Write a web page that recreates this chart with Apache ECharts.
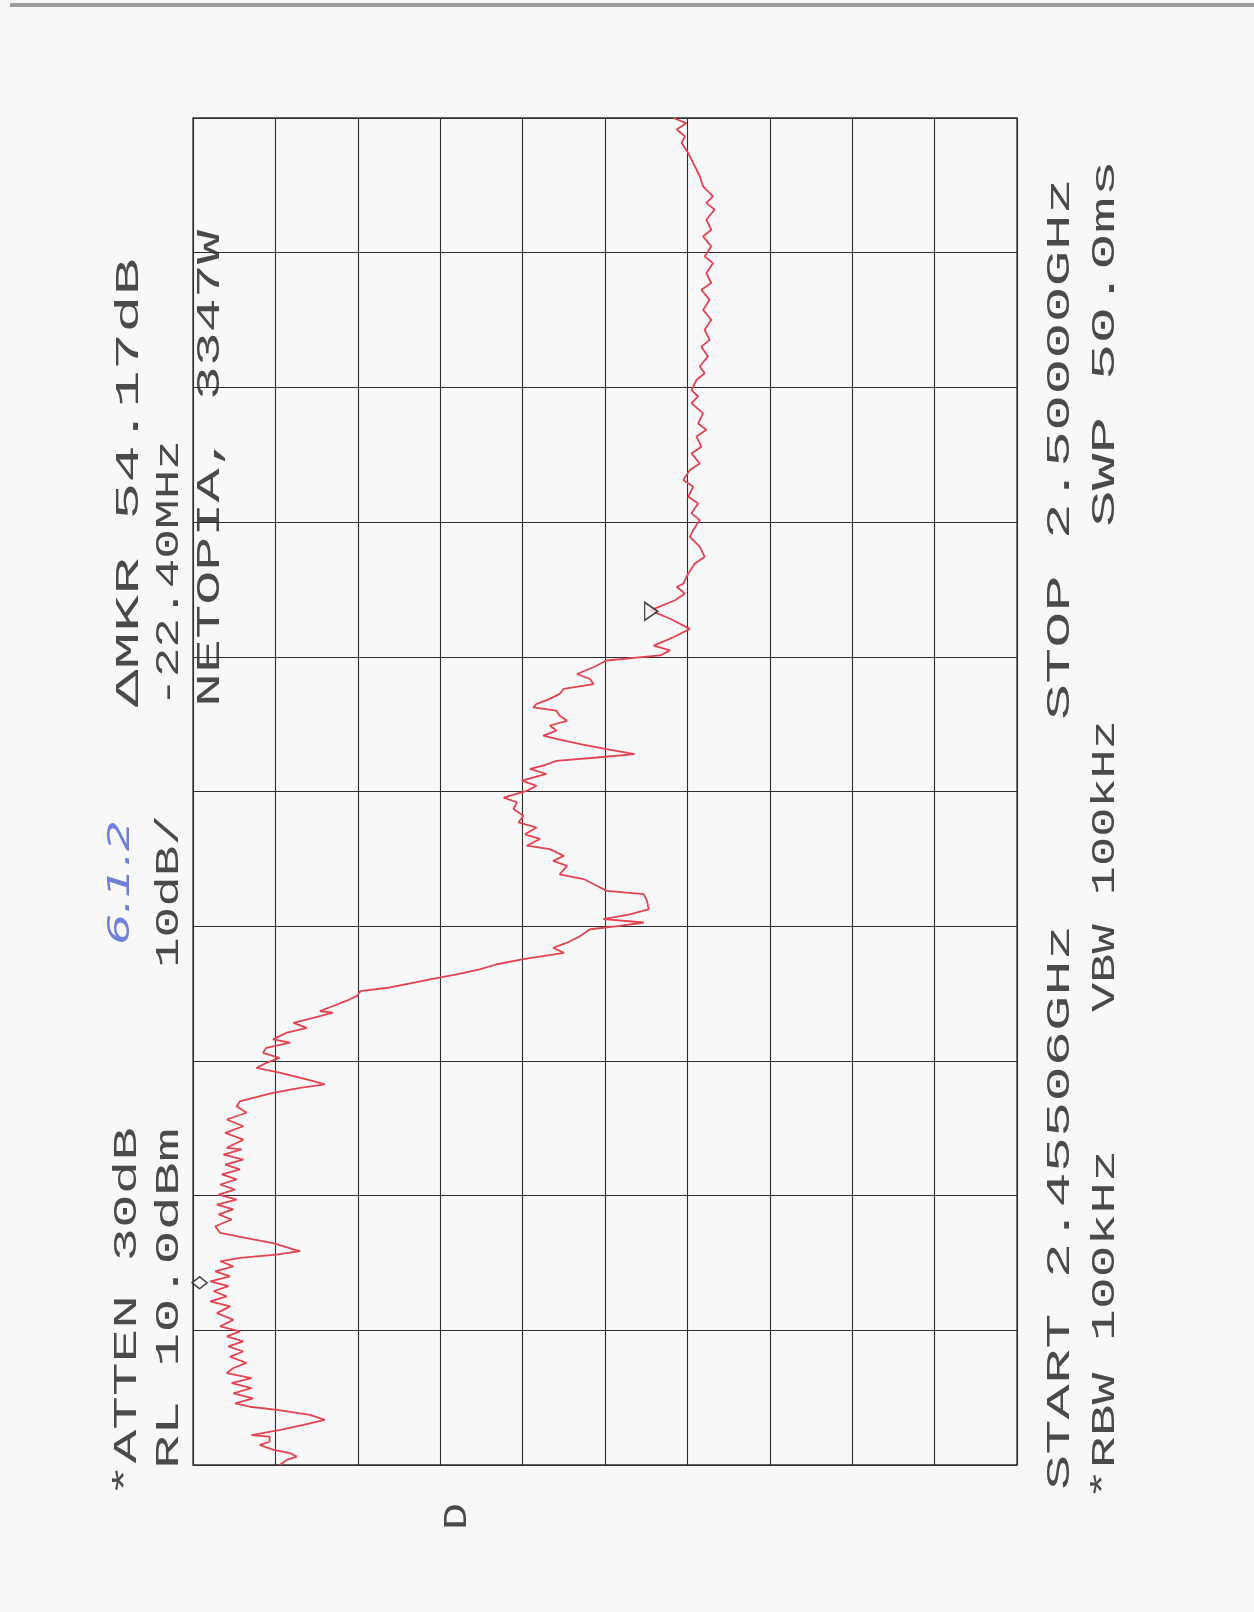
<!DOCTYPE html>
<html>
<head>
<meta charset="utf-8">
<script src="https://cdn.jsdelivr.net/npm/echarts@6/dist/echarts.min.js"></script>
<style>
  html, body { margin: 0; padding: 0; background: #f8f8f9; }
  #chart { width: 1254px; height: 1612px; }
</style>
</head>
<body>
<div id="chart"></div>
<script>
// ---- Data (spectrum analyzer trace, 401-point sweep, 10 dB/div, RL 10.0 dBm) ----
const sweepStartGHz = 2.45506;
const sweepStopGHz = 2.50000;
const sweepPoints = 400;          // point index range 0..400
const refLevelDbm = 10;
const dbPerDiv = 10;

// Trace: sweep point index (frequency position) and level in dBm
const tracePoint = [
  0, 1.5, 2.5, 3.5, 4.5, 6.0, 6.9, 8.4, 8.9, 10.4, 11.9, 13.4, 14.9, 16.4, 17.3, 18.3, 19.8, 21.3, 22.8, 24.3, 25.8, 27.3,
  28.8, 30.3, 32.2, 33.7, 35.2, 36.7, 38.2, 39.7, 41.2, 43.1, 45.1, 47.1, 48.6, 50.1, 51.6, 53.1, 54.5, 56.0, 57.5, 59.0,
  60.5, 61.5, 62.5, 63.5, 64.0, 65.9, 67.4, 68.9, 70.9, 72.9, 74.4, 75.9, 77.3, 78.8, 80.3, 81.8, 83.3, 84.8, 86.3, 87.8,
  89.2, 90.7, 92.2, 93.7,
  94.2, 96.6, 98.6, 100.6, 102.6, 104.6, 106.5, 108.0, 109.0, 110.5, 112.0, 113.0, 114.5, 116.5, 117.9, 119.4, 120.9,
  122.4, 123.9, 125.4, 126.4, 128.4, 129.8, 131.3, 132.8, 134.3, 134.8, 136.3, 137.8, 139.3, 140.7,
  141.8, 142.8, 144.2, 145.7, 147.2, 148.7, 150.2, 152.1, 153.6, 155.1, 157.1, 159.1, 160.1, 161.1, 162.1, 163.5, 165.0,
  167.5, 169.5, 170.5, 172.0, 174.0, 175.4, 177.9, 179.4, 180.9, 182.9, 183.9, 185.9, 187.3, 189.3, 190.8, 192.8, 194.8,
  196.8, 198.2, 200.2, 201.7, 203.2, 205.2, 206.7, 207.7, 209.1, 210.1, 211.1, 212.6, 214.1, 215.6, 216.6, 218.1, 219.6,
  221.0, 222.5, 224.0, 225.0, 226.0, 227.5, 229.0, 230.5, 231.9, 233.4, 234.9, 236.9, 238.9, 240.4, 241.9, 243.3, 245.8,
  248.3, 251.3, 253.8,
  256.8, 258.8, 260.8, 261.7, 264.7, 267.7, 269.7, 272.7, 275.6, 277.6, 280.6, 282.6, 285.5, 287.5, 290.5, 292.5, 295.5,
  297.4, 300.4, 302.4, 305.4, 307.4, 309.3, 312.3, 315.3, 317.3, 319.2, 322.2, 324.2, 326.2, 329.2, 332.1, 334.1, 337.1,
  340.1, 343.0, 346.0, 349.0, 351.0, 353.9, 356.9, 358.9, 361.9, 364.8, 366.8, 369.8, 372.8, 374.8, 376.7, 379.7, 382.7,
  386.7, 389.6, 392.6, 394.6, 396.6, 398.5, 400
];
const traceLevelDbm = [
  -0.5, -1.4, -2.6, -1.8, 0.2, 1.9, 0.7, 0.7, 2.9, -0.6, -3.4, -6.0, -4.2, -0.2, 3.1, 4.9, 2.7, 5.1, 2.9, 5.3, 2.9, 5.9,
  5.1, 3.5, 5.5, 3.9, 5.7, 3.9, 5.9, 4.3, 6.7, 5.1, 7.1, 5.5, 7.9, 5.9, 7.5, 5.7, 7.9, 5.5, 7.3, 5.1,
  6.7, 4.3, -0.1, -3.0, -2.2, 0.3, 3.5, 6.7, 7.3, 5.3, 6.9, 5.1, 7.1, 4.7, 6.9, 4.9, 6.7, 4.7, 6.5, 4.3,
  6.1, 3.9, 6.3, 4.1,
  5.9, 3.9, 6.1, 3.9, 5.9, 3.5, 4.7, 4.3, 2.7, 0.3, -3.0, -6.0, -3.8, -0.5, 2.3, 1.1, -0.5,
  1.5, 1.1, -1.8, 0.3, -1.4, -3.8, -2.2, -4.6, -7.0, -5.4, -7.0, -8.6, -9.9, -10.3,
  -13.9, -15.9, -18.8, -22.0, -24.8, -26.9, -30.1, -35.0, -33.7, -35.4, -37.0, -38.2, -41.8, -44.7, -39.8, -43.0, -45.3,
  -45.1, -44.7, -40.2, -39.0, -37.4, -34.5, -35.4, -33.7, -35.0, -33.3, -30.5, -32.1, -30.3, -31.7, -29.5, -30.1, -28.9,
  -29.3, -27.7, -30.5, -31.7, -29.9, -32.9, -30.9, -32.5, -34.1, -39.0, -43.6, -40.2, -37.0, -34.1, -32.5, -34.1, -33.3,
  -35.4, -34.5, -34.1, -31.3, -31.7, -33.3, -34.5, -35.0, -38.6, -38.2, -36.6, -38.6, -40.2, -46.7, -47.9, -45.9, -48.3,
  -50.3, -47.9, -45.5,
  -48.5, -49.7, -48.7, -49.5, -50.1, -50.9, -52.1, -51.5, -50.3, -50.7, -51.5, -50.5, -51.3, -50.1, -50.7, -49.5, -50.3,
  -51.5, -50.5, -51.7, -51.1, -52.3, -51.3, -51.9, -50.5, -51.3, -50.5, -51.1, -52.1, -51.5, -52.5, -51.7, -52.7, -52.1,
  -52.9, -51.9, -52.7, -51.7, -52.9, -52.3, -53.1, -52.1, -52.9, -51.9, -52.9, -52.3, -53.3, -52.3, -53.1, -51.9, -51.5,
  -50.7, -50.1, -49.3, -49.7, -48.7, -49.9, -48.3
];

// Markers: reference marker (diamond) and delta marker (triangle)
const markerPoint = [54.1, 253.5];
const markerLevelDbm = [9.2, -45.6];

// Annotation texts
const textAtten = '*ATTEN 30dB';
const textRef = 'RL 10.0dBm';
const textScale = '10dB/';
const textNote = '6.1.2';
const textDeltaMkr = '\u0394MKR 54.17dB';
const textDeltaFreq = '-22.40MHz';
const textTitle = 'NETOPIA, 3347W';
const textStart = 'START 2.45506GHz';
const textStop = 'STOP 2.50000GHz';
const textRbw = '*RBW 100kHz';
const textVbw = 'VBW 100kHz';
const textSwp = 'SWP 50.0ms';
const textD = 'D';

// ---- Chart ----
const chart = echarts.init(document.getElementById('chart'), null, { renderer: 'canvas' });

const n = Math.min(tracePoint.length, traceLevelDbm.length);
const traceData = [];
for (let i = 0; i < n; i++) traceData.push([traceLevelDbm[i], tracePoint[i]]);

const measureCtx = document.createElement('canvas').getContext('2d');
const plotFont = '34px "Liberation Mono"';
const inkColor = '#4a4a4a';

// Rotated (reading bottom-to-top) text fitted between two vertical positions
function rotText(str, cx, yStart, yEnd, font, color) {
  measureCtx.font = font;
  const w = measureCtx.measureText(str).width;
  const sx = (yStart - yEnd) / w;
  return {
    type: 'text',
    x: cx, y: yStart,
    rotation: Math.PI / 2,
    scaleX: sx,
    silent: true,
    style: { text: str, font: font, fill: color, align: 'left', verticalAlign: 'middle' }
  };
}

const graphics = [
  { type: 'rect', shape: { x: 10, y: 3, width: 1244, height: 4 }, style: { fill: '#9c9c9c' }, silent: true },
  rotText(textAtten, 127, 1497, 1127, plotFont, inkColor),
  rotText(textRef, 169, 1469, 1128, plotFont, inkColor),
  rotText(textScale, 169, 968, 815, plotFont, inkColor),
  rotText(textNote, 121, 945, 820, 'italic 30px "DejaVu Sans"', '#7080d8'),
  rotText(textDeltaMkr, 129, 707, 258, plotFont, inkColor),
  rotText(textDeltaFreq, 169, 707, 440, plotFont, inkColor),
  rotText(textTitle, 210, 707, 230, plotFont, inkColor),
  rotText(textStart, 1060, 1490, 925, plotFont, inkColor),
  rotText(textStop, 1060, 720, 178, plotFont, inkColor),
  rotText(textRbw, 1105, 1500, 1150, plotFont, inkColor),
  rotText(textVbw, 1105, 1012, 720, plotFont, inkColor),
  rotText(textSwp, 1105, 527, 160, plotFont, inkColor),
  rotText(textD, 457, 1530, 1503, plotFont, inkColor)
];

const option = {
  animation: false,
  backgroundColor: '#f8f8f9',
  grid: {
    left: 193, top: 118, width: 824, height: 1347,
    show: true, borderColor: '#2f2f2f', borderWidth: 1.3, backgroundColor: 'transparent'
  },
  xAxis: {
    type: 'value',
    min: refLevelDbm - 10 * dbPerDiv, max: refLevelDbm, interval: dbPerDiv,
    inverse: true,
    axisLine: { show: false }, axisTick: { show: false }, axisLabel: { show: false },
    splitLine: { show: true, lineStyle: { color: '#2f2f2f', width: 1.1 } }
  },
  yAxis: {
    type: 'value',
    min: 0, max: sweepPoints, interval: sweepPoints / 10,
    axisLine: { show: false }, axisTick: { show: false }, axisLabel: { show: false },
    splitLine: { show: true, lineStyle: { color: '#2f2f2f', width: 1.1 } }
  },
  series: [
    {
      type: 'line',
      name: 'trace',
      data: traceData,
      showSymbol: false,
      lineStyle: { color: '#e2434f', width: 1.8 },
      z: 3
    },
    {
      type: 'scatter',
      name: 'ref marker',
      data: [[markerLevelDbm[0], markerPoint[0]]],
      symbol: 'diamond',
      symbolSize: [15, 12],
      itemStyle: { color: '#f8f8f9', borderColor: '#222', borderWidth: 1.6 },
      z: 4
    },
    {
      type: 'scatter',
      name: 'delta marker',
      data: [[markerLevelDbm[1], markerPoint[1]]],
      symbol: 'triangle',
      symbolSize: [18, 13],
      symbolRotate: -90,
      itemStyle: { color: '#f8f8f9', borderColor: '#222', borderWidth: 1.6 },
      z: 4
    }
  ],
  graphic: graphics
};

chart.setOption(option);
</script>
</body>
</html>
